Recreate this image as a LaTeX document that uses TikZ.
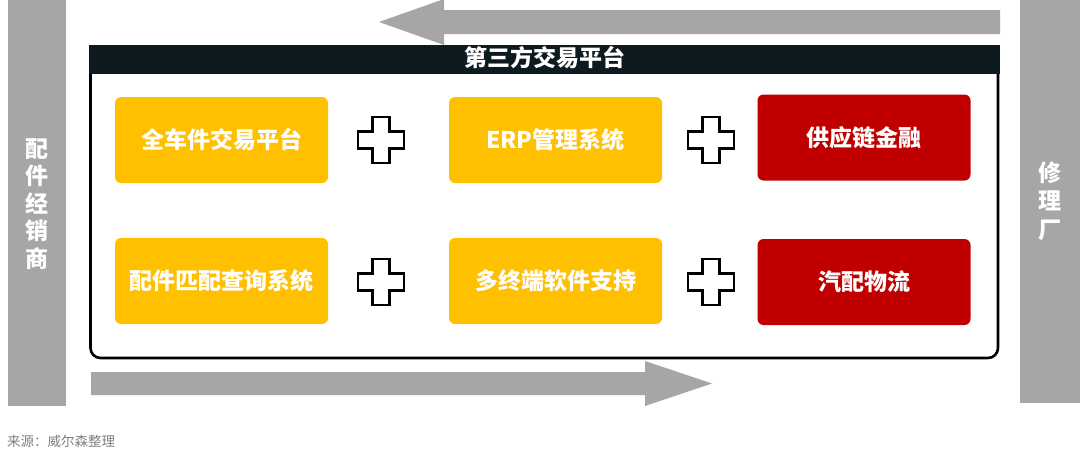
\documentclass[tikz,border=0pt]{standalone}
\usepackage{fontspec}
\setmainfont{Noto Sans CJK SC}
\definecolor{barg}{HTML}{A6A6A6}
\definecolor{yel}{HTML}{FFC000}
\definecolor{redd}{HTML}{C00000}
\definecolor{hdr}{HTML}{0D1B21}
\definecolor{srcg}{HTML}{808080}
\tikzset{
  card/.style={rounded corners=6pt, minimum width=213pt, minimum height=86pt, inner sep=0pt,
    text=white, font=\fontsize{23}{26}\selectfont\bfseries},
  ycard/.style={card, fill=yel},
  rcard/.style={card, fill=redd},
  bartext/.style={text=white, align=center, font=\fontsize{23}{27.5}\selectfont\bfseries, inner sep=0pt},
  plussign/.pic={
    \draw[line width=2.6pt, fill=white, line join=miter]
      (-8.5,-23) -- (8.5,-23) -- (8.5,-8.5) -- (23,-8.5) -- (23,8.5) -- (8.5,8.5) -- (8.5,23)
      -- (-8.5,23) -- (-8.5,8.5) -- (-23,8.5) -- (-23,-8.5) -- (-8.5,-8.5) -- cycle;
  }
}
\begin{document}
\begin{tikzpicture}[x=1pt,y=-1pt]
\useasboundingbox[fill=white] (0,0) rectangle (1080,453);
\begin{scope}
\clip (0,0) rectangle (1080,453);
% side bars
\fill[barg] (8,0) rectangle (66,406);
\fill[barg] (1020,0) rectangle (1080,403);
% top arrow (right to left)
\fill[barg] (1000,10) -- (444,10) -- (444,-1) -- (379,22) -- (444,45) -- (444,34) -- (1000,34) -- cycle;
% bottom arrow (left to right)
\fill[barg] (91,372) -- (645,372) -- (645,361) -- (712,383.5) -- (645,406) -- (645,395) -- (91,395) -- cycle;
\end{scope}
% frame
\draw[line width=2.6pt, rounded corners=10pt] (90.5,70) -- (90.5,358) -- (998,358) -- (998,70);
\fill[hdr] (89,45) rectangle (1000,74);
\node[text=white, font=\fontsize{23}{26}\selectfont\bfseries, inner sep=0pt] (title) at (545,58) {第三方交易平台};
% bar labels
\node[bartext] (dealer) at (36.5,204) {配\\件\\经\\销\\商};
\node[bartext, font=\fontsize{23}{28.5}\selectfont\bfseries] (repair) at (1050,201) {修\\理\\厂};
% cards
\node[ycard] (c1) at (221.5,140) {全车件交易平台};
\node[ycard] (c2) at (555.5,140) {ERP管理系统};
\node[rcard] (c3) at (864,137.5) {供应链金融};
\node[ycard] (c4) at (221.5,281) {配件匹配查询系统};
\node[ycard] (c5) at (555.5,281) {多终端软件支持};
\node[rcard] (c6) at (864,282) {汽配物流};
% plus signs
\pic at (381,140) {plussign};
\pic at (711,140) {plussign};
\pic at (381,282) {plussign};
\pic at (711,282) {plussign};
% source
\node[anchor=west, text=srcg, font=\fontsize{13.5}{16}\selectfont, inner sep=0pt] (src) at (7,441) {来源：威尔森整理};
\end{tikzpicture}
\end{document}
